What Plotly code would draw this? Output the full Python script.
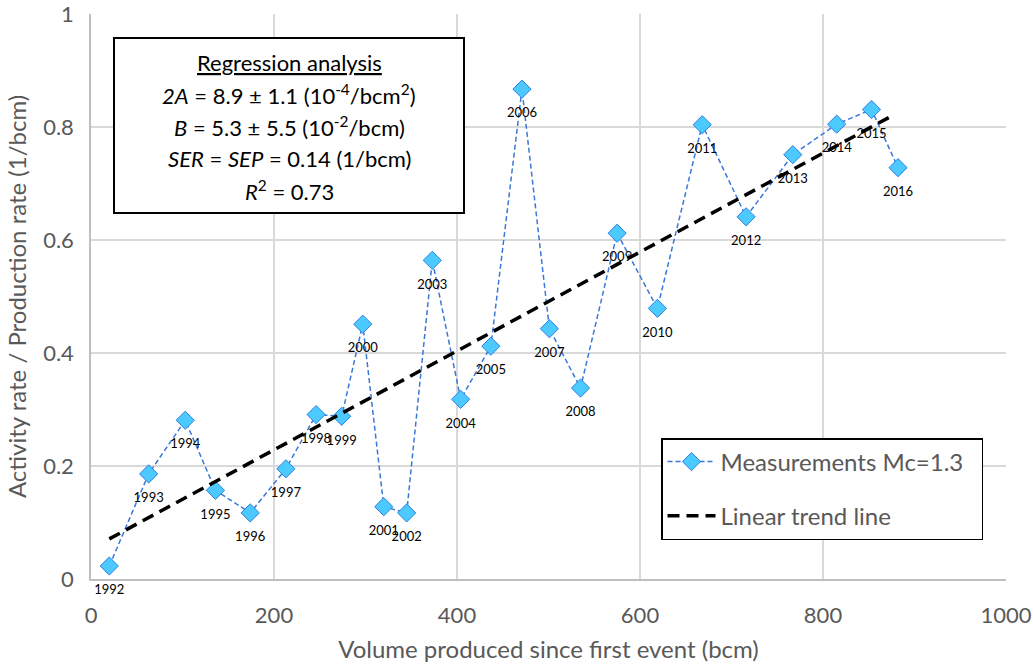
import plotly.graph_objects as go

# Data
years = [str(y) for y in range(1992, 2017)]
volume = [20, 63, 103, 136, 174, 213, 246, 274, 297, 320, 345, 373,
          404, 437, 471, 501, 535, 575, 619, 668, 716, 767, 815, 853, 882]
rate = [0.023, 0.186, 0.281, 0.157, 0.117, 0.195, 0.291, 0.288, 0.451, 0.128, 0.117, 0.564,
        0.318, 0.412, 0.867, 0.443, 0.338, 0.612, 0.479, 0.804, 0.641, 0.751, 0.805, 0.831, 0.728]

trend_x = [20, 878]
trend_y = [0.071, 0.822]

x_ticks = [0, 200, 400, 600, 800, 1000]
y_ticks = [0, 0.2, 0.4, 0.6, 0.8, 1]
y_ticktext = ['0', '0.2', '0.4', '0.6', '0.8', '1']

box_lines = [
    '<u>Regression analysis</u>',
    '<i>2A</i> = 8.9 ± 1.1 (10<sup>-4</sup>/bcm<sup>2</sup>)',
    '<i>B</i> = 5.3 ± 5.5 (10<sup>-2</sup>/bcm)',
    '<i>SER</i> = <i>SEP</i> = 0.14 (1/bcm)',
    '<i>R</i><sup>2</sup> = 0.73',
]

font_name = 'Lato, Carlito, Calibri, sans-serif'
grey = '#595959'
W, H = 1033, 666
ml, mr, mt, mb = 91, 27, 14, 87


def px(x, y):
    # window pixel -> paper coords
    return (x - ml) / (W - ml - mr), 1 - (y - mt) / (H - mt - mb)


fig = go.Figure()

fig.add_trace(go.Scatter(
    x=volume, y=rate, mode='lines+markers', name='Measurements Mc=1.3\u00a0\u00a0',
    legendgroup='meas', legendrank=1,
    line=dict(color='#3a78d8', width=1.5, dash='5px,3px'),
    marker=dict(symbol='diamond', size=14, color='#4cc9ff',
                line=dict(color='#2e80e0', width=1))))

fig.add_trace(go.Scatter(
    x=trend_x, y=trend_y, mode='lines', name='Linear trend line',
    legendgroup='trend', legendrank=2,
    line=dict(color='black', width=3.5, dash='12px,7px')))

# year labels, pushed a bit further below the points by an invisible marker
fig.add_trace(go.Scatter(
    x=volume, y=rate, mode='markers+text', text=years,
    textposition='bottom center', showlegend=False, hoverinfo='skip',
    cliponaxis=False,
    textfont=dict(family=font_name, size=13, color='black'),
    marker=dict(size=28, opacity=0)))

x0, y0 = px(114, 38)
x1, y1 = px(464, 213)
fig.add_shape(type='rect', xref='paper', yref='paper', x0=x0, y0=y0, x1=x1, y1=y1,
              line=dict(color='black', width=2), fillcolor='white')
for i, line in enumerate(box_lines):
    ax, ay = px(289, 62 + 32 * i)
    fig.add_annotation(x=ax, y=ay, xref='paper', yref='paper', xanchor='center',
                       yanchor='middle', text=line, showarrow=False,
                       font=dict(family=font_name, size=22, color='black'))

lx, ly = px(661, 438)
fig.update_layout(
    width=W, height=H,
    margin=dict(l=ml, r=mr, t=mt, b=mb),
    paper_bgcolor='white', plot_bgcolor='white',
    font=dict(family=font_name, size=22, color=grey),
    showlegend=True,
    legend=dict(
        x=lx, y=ly, xanchor='left', yanchor='top',
        bordercolor='black', borderwidth=1.5, bgcolor='white',
        font=dict(family=font_name, size=24, color=grey),
        traceorder='grouped', itemwidth=48, tracegroupgap=20),
    xaxis=dict(
        range=[0, 1000], tickvals=x_ticks, ticks='', automargin=False,
        ticklabeloverflow='allow',
        showgrid=True, gridcolor='#d9d9d9', gridwidth=1.5,
        showline=True, linecolor='#bfbfbf', linewidth=1.5,
        zeroline=False, tickfont=dict(size=22, color=grey), ticklabelstandoff=16,
        title=dict(text='Volume produced since first event (bcm)',
                   font=dict(size=24, color=grey), standoff=14)),
    yaxis=dict(
        range=[0, 1], tickvals=y_ticks, ticktext=y_ticktext, ticks='', automargin=False,
        ticklabeloverflow='allow',
        showgrid=True, gridcolor='#d9d9d9', gridwidth=1.5,
        showline=True, linecolor='#bfbfbf', linewidth=1.5,
        zeroline=False, tickfont=dict(size=22, color=grey), ticklabelstandoff=11,
        title=dict(text='Activity rate / Production rate (1/bcm)',
                   font=dict(size=24, color=grey), standoff=10)),
)

# drop the page's default body margin so the figure sits at the window corner
fig.write_html('out.html', config={'displayModeBar': False},
               post_script="document.body.style.margin='0';")
